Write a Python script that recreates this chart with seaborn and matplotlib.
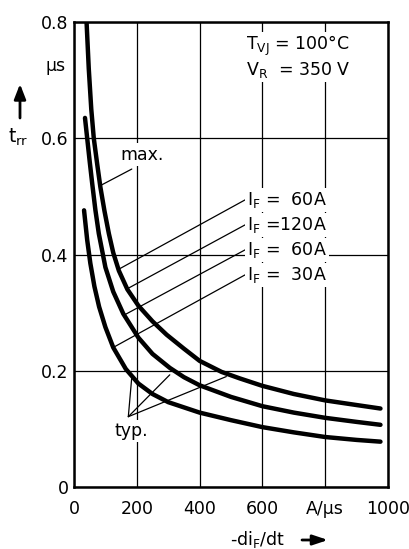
import numpy as np
import pandas as pd
import matplotlib
matplotlib.use("Agg")
import matplotlib.pyplot as plt
import seaborn as sns

# ---- data ----
top_x = [40, 47, 55, 63, 74, 84, 97, 111, 125, 143, 170, 205, 250, 295, 350, 400, 470, 527, 600, 700, 800, 900, 976]
top_y = [0.80, 0.72, 0.65, 0.60, 0.555, 0.516, 0.475, 0.436, 0.403, 0.372, 0.340, 0.312, 0.285, 0.262, 0.238,
         0.217, 0.198, 0.187, 0.174, 0.160, 0.149, 0.141, 0.135]
mid_x = [35, 42, 50, 58, 68, 79, 100, 125, 157, 205, 250, 305, 350, 400, 500, 600, 700, 800, 900, 976]
mid_y = [0.635, 0.60, 0.56, 0.522, 0.477, 0.436, 0.378, 0.336, 0.298, 0.257, 0.229, 0.205, 0.189, 0.175,
         0.155, 0.139, 0.128, 0.119, 0.112, 0.107]
bot_x = [32, 42, 52, 65, 80, 100, 125, 165, 205, 250, 300, 400, 500, 600, 700, 800, 900, 976]
bot_y = [0.476, 0.425, 0.385, 0.345, 0.31, 0.275, 0.24, 0.203, 0.178, 0.160, 0.146, 0.128, 0.115, 0.103,
         0.094, 0.086, 0.081, 0.078]

x_ticks = [0, 200, 400, 600, 800, 1000]
x_tick_labels = ["0", "200", "400", "600", "A/\u00b5s", "1000"]
y_ticks = [0, 0.2, 0.4, 0.6, 0.8]
y_tick_labels = ["0", "0.2", "0.4", "0.6", "0.8"]

if_labels = [r"I$_\mathrm{F}$ =  60A", r"I$_\mathrm{F}$ =120A", r"I$_\mathrm{F}$ =  60A", r"I$_\mathrm{F}$ =  30A"]
if_label_y = [0.494, 0.451, 0.408, 0.365]
if_leader_end_x = [147, 173, 157, 128]
if_leader_end_y = [0.376, 0.342, 0.295, 0.241]
typ_end_x = [184, 305, 485]
typ_end_y = [0.189, 0.193, 0.190]

# ---- build long-form table ----
frames = []
for name, xs, ys in [("max", top_x, top_y), ("mid", mid_x, mid_y), ("low", bot_x, bot_y)]:
    frames.append(pd.DataFrame({"x": xs, "y": ys, "curve": name}))
df = pd.concat(frames, ignore_index=True)

sns.set_style("white")
plt.rcParams["font.family"] = ["DejaVu Sans"]
plt.rcParams["mathtext.fontset"] = "dejavusans"
plt.rcParams["text.color"] = "black"
plt.rcParams["xtick.color"] = "black"
plt.rcParams["ytick.color"] = "black"

W, H = 409, 549
fig = plt.figure(figsize=(W / 100, H / 100), dpi=100)
ax = fig.add_axes([74 / W, 1 - 487 / H, (388 - 74) / W, (487 - 22) / H])

sns.lineplot(data=df, x="x", y="y", units="curve", estimator=None, sort=False,
             color="black", lw=3.2, ax=ax, solid_capstyle="round", solid_joinstyle="round", zorder=4)

ax.set_xlim(0, 1000)
ax.set_ylim(0, 0.8)
ax.set_xticks(x_ticks)
ax.set_xticklabels(x_tick_labels)
ax.set_yticks(y_ticks)
ax.set_yticklabels(y_tick_labels)
ax.tick_params(axis="both", length=0, labelsize=12.5, colors="black")
ax.tick_params(axis="x", pad=9)
ax.tick_params(axis="y", pad=4)
ax.set_xlabel("")
ax.set_ylabel("")
ax.grid(True, color="black", lw=0.9)
ax.set_axisbelow(True)
for s in ax.spines.values():
    s.set_visible(True)
    s.set_color("black")
    s.set_linewidth(1.8)

fs = 12.5
wbox = dict(facecolor="white", edgecolor="none", pad=1.5)

# conditions text
ax.text(549, 0.759, r"T$_\mathrm{VJ}$ = 100°C", fontsize=fs, ha="left", va="center", bbox=wbox, zorder=5)
ax.text(549, 0.718, r"V$_\mathrm{R}$  = 350 V", fontsize=fs, ha="left", va="center", bbox=wbox, zorder=5)

# I_F labels and leaders
for lab, ly, ex, ey in zip(if_labels, if_label_y, if_leader_end_x, if_leader_end_y):
    ax.annotate("", xy=(ex, ey), xytext=(545, ly),
                arrowprops=dict(arrowstyle="-", lw=0.9, color="black", shrinkA=0, shrinkB=0), zorder=3)
    ax.text(550, ly, lab, fontsize=fs, ha="left", va="center", bbox=wbox, zorder=5)

# max. label
ax.annotate("", xy=(89, 0.52), xytext=(184, 0.547),
            arrowprops=dict(arrowstyle="-", lw=0.9, color="black", shrinkA=0, shrinkB=0))
ax.text(217, 0.572, "max.", fontsize=fs, ha="center", va="center", bbox=wbox, zorder=5)

# typ. label
for ex, ey in zip(typ_end_x, typ_end_y):
    ax.annotate("", xy=(ex, ey), xytext=(173, 0.121),
                arrowprops=dict(arrowstyle="-", lw=0.9, color="black", shrinkA=0, shrinkB=0))
ax.text(184, 0.096, "typ.", fontsize=fs, ha="center", va="center", bbox=wbox, zorder=5)

# axis labels
fig.text(66 / W, 1 - 66 / H, "\u00b5s", fontsize=fs, ha="right", va="center")
fig.text(8 / W, 1 - 137 / H, r"t$_\mathrm{rr}$", fontsize=13.5, ha="left", va="center")
fig.text(258 / W, 9 / H, r"-di$_\mathrm{F}$/dt", fontsize=fs, ha="center", va="center")

# arrows
fig.add_artist(matplotlib.patches.FancyArrowPatch((20 / W, 1 - 118 / H), (20 / W, 1 - 84 / H),
               transform=fig.transFigure, arrowstyle="-|>,head_length=0.9,head_width=0.35",
               color="black", lw=2.0, mutation_scale=10, shrinkA=0, shrinkB=0))
fig.add_artist(matplotlib.patches.FancyArrowPatch((302 / W, 9 / H), (328 / W, 9 / H),
               transform=fig.transFigure, arrowstyle="-|>,head_length=0.9,head_width=0.3",
               color="black", lw=2.0, mutation_scale=10, shrinkA=0, shrinkB=0))

fig.savefig("out.png", dpi=100)
